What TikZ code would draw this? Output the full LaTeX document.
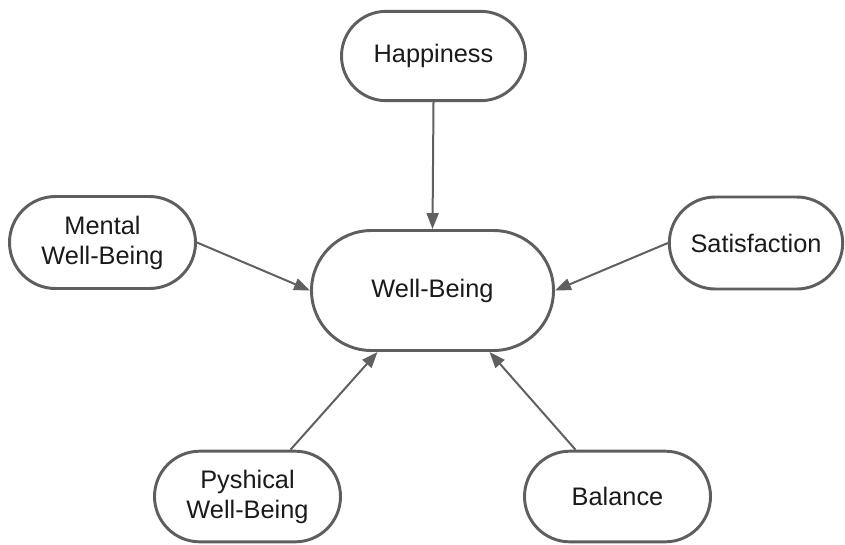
\documentclass[tikz,border=0pt]{standalone}
\usepackage{fontspec}
\setmainfont{Liberation Sans}
\usetikzlibrary{shapes.misc,arrows.meta,calc}
\definecolor{boxline}{HTML}{5E5E5E}
\definecolor{arrline}{HTML}{606060}
\definecolor{txt}{HTML}{1A1A1A}
\begin{document}
\begin{tikzpicture}[x=0.75pt,y=-0.75pt,
  pill/.style={rounded rectangle, draw=boxline, line width=2.2pt, fill=white,
    inner sep=0pt, align=center, text=txt,
    font=\fontsize{19}{22.5}\selectfont},
  link/.style={draw=arrline, line width=1.5pt,
    -{Triangle[length=12pt,width=9pt]}}]
\useasboundingbox (0,0) rectangle (845,544);
\node[pill, minimum width=138pt, minimum height=67pt] (hap) at (433.5,56) {Happiness};
\node[pill, minimum width=181.5pt, minimum height=90pt] (wb) at (432.5,290.5) {Well-Being};
\node[pill, minimum width=139.5pt, minimum height=69pt] (men) at (102.5,242.5) {Mental\\Well-Being};
\node[pill, minimum width=130pt, minimum height=69pt] (sat) at (756,243) {Satisfaction};
\node[pill, minimum width=139.5pt, minimum height=68pt] (phy) at (247.5,496.5) {Pyshical\\Well-Being};
\node[pill, minimum width=139.5pt, minimum height=68pt] (bal) at (617.5,496.5) {Balance};
\coordinate (phyout) at ($(phy.north)+(43,0)$);
\coordinate (wbinL) at ($(wb.south)+(-55,0)$);
\coordinate (balout) at ($(bal.north)+(-42,0)$);
\coordinate (wbinR) at ($(wb.south)+(57,0)$);
\draw[link] (hap.south) -- (wb.north);
\draw[link] (men.east) -- (wb.west);
\draw[link] (sat.west) -- (wb.east);
\draw[link] (phyout) -- (wbinL);
\draw[link] (balout) -- (wbinR);
\end{tikzpicture}
\end{document}
